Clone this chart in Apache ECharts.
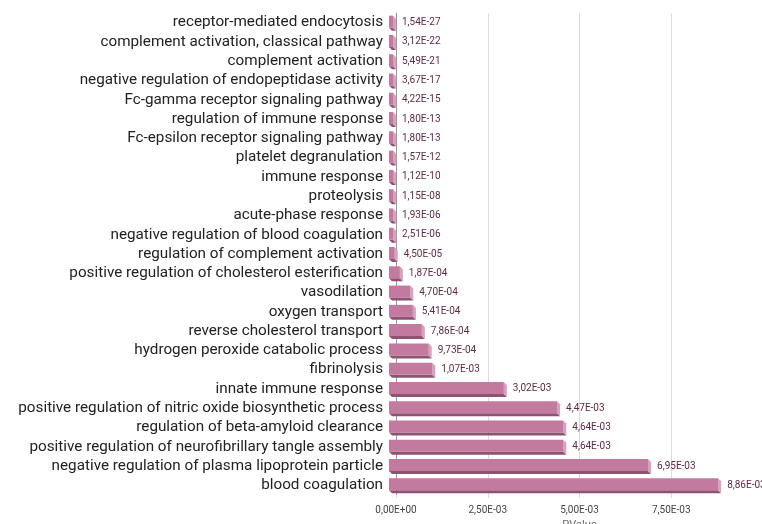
<!DOCTYPE html>
<html>
<head>
<meta charset="utf-8">
<script src="https://cdn.jsdelivr.net/npm/echarts@6/dist/echarts.min.js"></script>
<style>
html,body{margin:0;padding:0;background:#fff;}
#chart{width:762px;height:524px;}
</style>
</head>
<body>
<div id="chart"></div>
<script>
const categories = [
  "receptor-mediated endocytosis",
  "complement activation, classical pathway",
  "complement activation",
  "negative regulation of endopeptidase activity",
  "Fc-gamma receptor signaling pathway",
  "regulation of immune response",
  "Fc-epsilon receptor signaling pathway",
  "platelet degranulation",
  "immune response",
  "proteolysis",
  "acute-phase response",
  "negative regulation of blood coagulation",
  "regulation of complement activation",
  "positive regulation of cholesterol esterification",
  "vasodilation",
  "oxygen transport",
  "reverse cholesterol transport",
  "hydrogen peroxide catabolic process",
  "fibrinolysis",
  "innate immune response",
  "positive regulation of nitric oxide biosynthetic process",
  "regulation of beta-amyloid clearance",
  "positive regulation of neurofibrillary tangle assembly",
  "negative regulation of plasma lipoprotein particle",
  "blood coagulation"
];
const pValues = [
  1.54e-27, 3.12e-22, 5.49e-21, 3.67e-17, 4.22e-15, 1.80e-13, 1.80e-13,
  1.57e-12, 1.12e-10, 1.15e-08, 1.93e-06, 2.51e-06, 4.50e-05, 1.87e-04,
  4.70e-04, 5.41e-04, 7.86e-04, 9.73e-04, 1.07e-03, 3.02e-03, 4.47e-03,
  4.64e-03, 4.64e-03, 6.95e-03, 8.86e-03
];
const axisName = "PValue";
const axisMin = 0, axisMax = 0.01, axisInterval = 0.0025;

function fmt(v) {
  let s = Number(v).toExponential(2);
  let parts = s.split('e');
  let mant = parts[0].replace('.', ',');
  let exp = parseInt(parts[1], 10);
  let sign = exp < 0 ? '-' : '+';
  let ab = Math.abs(exp);
  return mant + 'E' + sign + (ab < 10 ? '0' + ab : '' + ab);
}

const FRONT = '#c27a9f', BOTTOM = '#8e5273', SIDE = '#d9a0bd';

function renderItem(params, api) {
  const v = api.value(0);
  const idx = api.value(1);
  const p0 = api.coord([0, idx]);
  const p1 = api.coord([v, idx]);
  const yc = p0[1];
  const x0 = p0[0] - 7;
  const xr = p1[0];
  const xf = xr - 3;
  const top = yc - 7, bot = yc + 5, d = 3;
  return {
    type: 'group',
    children: [
      { type: 'polygon', shape: { points: [[x0, bot], [xf, bot], [xr, bot + d], [x0 + d, bot + d]] }, style: { fill: BOTTOM } },
      { type: 'polygon', shape: { points: [[xf, top], [xr, top + d], [xr, bot + d], [xf, bot]] }, style: { fill: SIDE } },
      { type: 'rect', shape: { x: x0, y: top, width: xf - x0, height: bot - top }, style: { fill: FRONT } },
      { type: 'text', style: { text: fmt(v), x: xr + 6, y: yc, fill: '#5e2a45', fontSize: 10, fontFamily: 'Roboto', verticalAlign: 'middle', align: 'left' } }
    ]
  };
}

const chart = echarts.init(document.getElementById('chart'), null, { renderer: 'canvas' });
chart.setOption({
  animation: false,
  backgroundColor: '#fff',
  grid: { left: 396, right: -1, top: 13, bottom: 29, containLabel: false, outerBoundsMode: 'none' },
  xAxis: {
    type: 'value', min: axisMin, max: axisMax, interval: axisInterval,
    name: axisName, nameLocation: 'middle', nameGap: 21,
    nameTextStyle: { color: '#666', fontSize: 11, fontFamily: 'Roboto' },
    axisLine: { show: false },
    axisTick: { show: true, length: 3, lineStyle: { color: '#ddd' } },
    splitLine: { show: true, lineStyle: { color: '#dcdcdc', width: 1 } },
    axisLabel: { formatter: fmt, color: '#444', fontSize: 10, fontFamily: 'Roboto', margin: 10, showMaxLabel: false }
  },
  yAxis: {
    type: 'category', data: categories, inverse: true,
    axisLine: { show: true, lineStyle: { color: '#999', width: 1 } },
    axisTick: { show: false },
    splitLine: { show: false },
    axisLabel: { interval: 0, color: '#222', fontSize: 15.25, fontFamily: 'Roboto', margin: 13 }
  },
  series: [{
    type: 'custom',
    renderItem: renderItem,
    encode: { x: 0, y: 1 },
    data: pValues.map((v, i) => [v, i]),
    z: 3
  }]
});
</script>
</body>
</html>
